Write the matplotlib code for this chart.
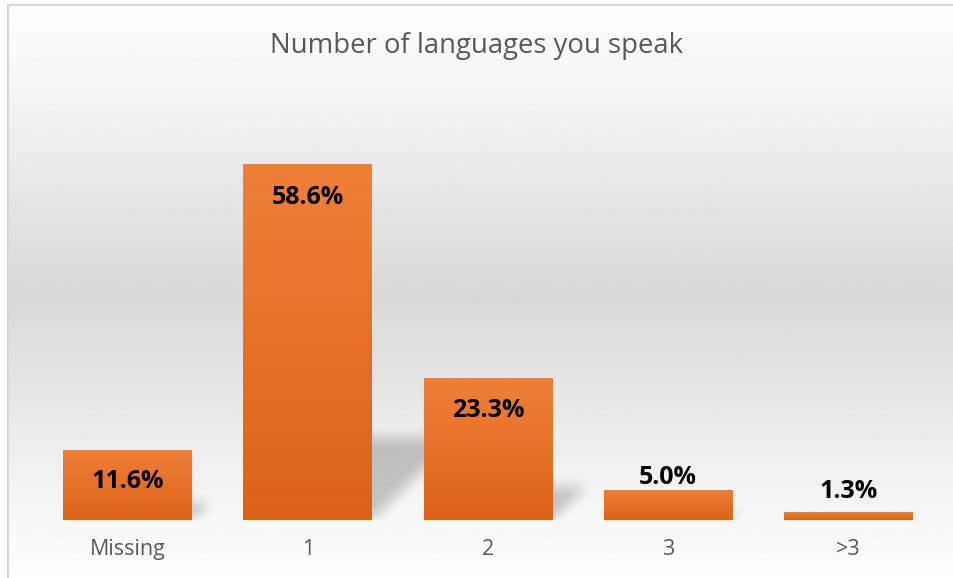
import numpy as np
import matplotlib
matplotlib.use("Agg")
import matplotlib.pyplot as plt
from matplotlib.colors import LinearSegmentedColormap
from matplotlib.patches import Rectangle

# data
categories = ["Missing", "1", "2", "3", ">3"]
shares = [11.6, 58.6, 23.3, 5.0, 1.3]
value_labels = ["11.6%", "58.6%", "23.3%", "5.0%", "1.3%"]

W, H, DPI = 954, 578, 100
fig = plt.figure(figsize=(W / DPI, H / DPI), dpi=DPI)

# chart area: white -> grey -> white gradient with a thin light border
bg = fig.add_axes([8 / W, -0.01, 1.01, 1 - 5 / H + 0.01], zorder=-10)
bg.set_axis_off()
t = np.abs(np.linspace(-1, 1, 400))
shade = 0.85 + 0.15 * t
bg.imshow(np.tile(shade[:, None], (1, 2)), cmap="gray", vmin=0, vmax=1,
          aspect="auto", extent=[0, 1, 0, 1], interpolation="bilinear")
bg.set_xlim(0, 1)
bg.set_ylim(0, 1)
bg.add_patch(Rectangle((0, 0), 1, 1, fill=False, ec="#d9d9d9", lw=1.6,
                       transform=bg.transAxes, clip_on=False))

# plot area
ax_rect = [37.5 / W, 58 / H, 901 / W, 425.25 / H]
ax = fig.add_axes(ax_rect)
ax.patch.set_alpha(0)
x = np.arange(len(categories))
ymax = 70
bar_w = 0.715
bars = ax.bar(x, shares, width=bar_w, color="none", zorder=3)

# bar fill gradient (lighter at top)
bar_cmap = LinearSegmentedColormap.from_list("bar", ["#DC6215", "#EF8038"])
grad = np.linspace(0, 1, 256)[:, None]
for b in bars:
    x0, w, h = b.get_x(), b.get_width(), b.get_height()
    im = ax.imshow(grad, cmap=bar_cmap, aspect="auto", origin="lower",
                   extent=[x0, x0 + w, 0, h], zorder=3, interpolation="bicubic")
    im.set_clip_path(b)

ax.set_xlim(-0.5, len(categories) - 0.5)
ax.set_ylim(0, ymax)

# soft perspective shadows behind the bars
px_x = ax_rect[2] * W / len(categories)
px_y = ax_rect[3] * H / ymax
nx, ny = int(ax_rect[2] * W), int(ax_rect[3] * H)
gx = np.linspace(-0.5, len(categories) - 0.5, nx)
gy = np.linspace(0, ymax, ny)
X, Y = np.meshgrid(gx, gy)
mask = np.zeros_like(X)
for xi, h in zip(x, shares):
    hs = 0.23 * h
    d = hs * px_y / px_x
    frac = np.clip(Y / hs, 0, None)
    inside = (Y <= hs) & (X >= xi - bar_w / 2 + frac * d) & (X <= xi + bar_w / 2 + frac * d)
    mask = np.maximum(mask, inside.astype(float))
k = np.ones(11) / 11
for _ in range(3):
    mask = np.apply_along_axis(lambda r: np.convolve(r, k, mode="same"), 1, mask)
    mask = np.apply_along_axis(lambda c: np.convolve(c, k, mode="same"), 0, mask)
shadow = np.zeros((ny, nx, 4))
shadow[..., 3] = 0.2 * mask
ax.imshow(shadow, aspect="auto", origin="lower",
          extent=[-0.5, len(categories) - 0.5, 0, ymax], zorder=2)
ax.set_xlim(-0.5, len(categories) - 0.5)
ax.set_ylim(0, ymax)

# value labels: inside the top of tall bars, above the short ones
label_offsets = [-32, -33, -32, 12, 21]  # pixels from bar top
for xi, h, lab, off in zip(x, shares, value_labels, label_offsets):
    ax.annotate(lab, (xi, h), xytext=(0, off), textcoords="offset pixels",
                ha="center", va="center", fontsize=18, fontweight="bold",
                family="Open Sans", color="black", zorder=5)

ax.set_xticks(x)
ax.set_xticklabels(categories, fontsize=15.5, family="Open Sans", color="#595959")
ax.tick_params(axis="x", length=0, pad=14)
ax.set_yticks([])
for s in ax.spines.values():
    s.set_visible(False)

fig.text(0.5, 1 - 46 / H, "Number of languages you speak", ha="center", va="center",
         fontsize=19.8, family="Open Sans", color="#595959")

fig.savefig("out.png", dpi=DPI)
